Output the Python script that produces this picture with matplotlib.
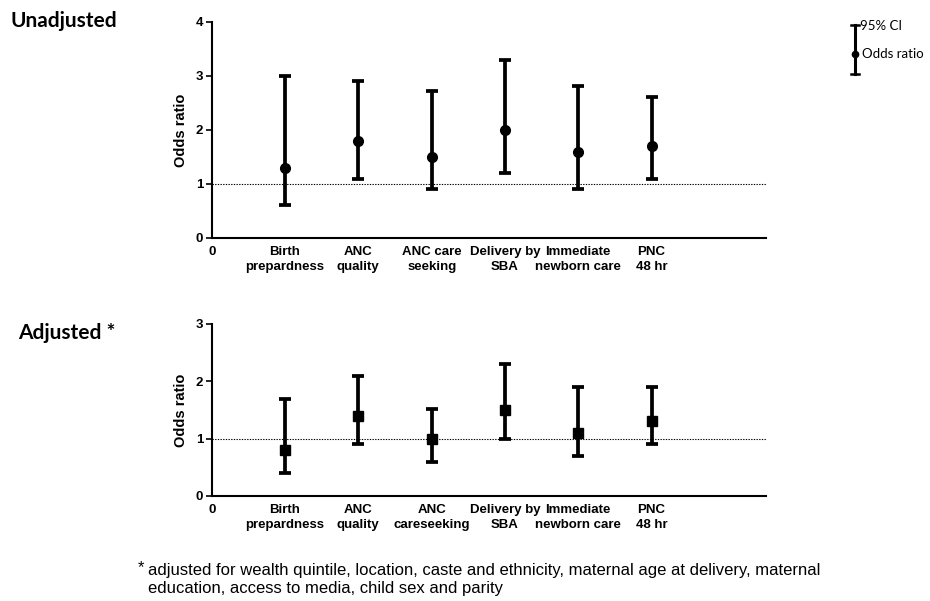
import matplotlib
matplotlib.use("Agg")
import matplotlib.pyplot as plt

categories_top = ["Birth\nprepardness", "ANC\nquality", "ANC care\nseeking",
                  "Delivery by\nSBA", "Immediate\nnewborn care", "PNC\n48 hr"]
categories_bottom = ["Birth\nprepardness", "ANC\nquality", "ANC\ncareseeking",
                     "Delivery by\nSBA", "Immediate\nnewborn care", "PNC\n48 hr"]

# unadjusted odds ratios and 95% CI
or_unadj = [1.3, 1.8, 1.5, 2.0, 1.6, 1.7]
lo_unadj = [0.62, 1.1, 0.9, 1.2, 0.9, 1.1]
hi_unadj = [3.0, 2.9, 2.72, 3.3, 2.82, 2.62]

# adjusted odds ratios and 95% CI
or_adj = [0.8, 1.4, 1.0, 1.5, 1.1, 1.3]
lo_adj = [0.4, 0.9, 0.6, 1.0, 0.7, 0.9]
hi_adj = [1.7, 2.1, 1.52, 2.3, 1.9, 1.9]

W, H = 930, 601
fig = plt.figure(figsize=(9.3, 6.01), dpi=100)
plt.rcParams['font.family'] = ['Liberation Sans', 'DejaVu Sans']


def px_axes(x0, y0, x1, y1):
    # pixel box (left, top, right, bottom) -> figure fraction axes
    return fig.add_axes([x0 / W, 1 - y1 / H, (x1 - x0) / W, (y1 - y0) / H])


def panel(ax, ors, lo, hi, labels, ymax, marker):
    x = list(range(1, len(ors) + 1))
    yerr = [[o - l for o, l in zip(ors, lo)], [h - o for o, h in zip(ors, hi)]]
    ax.errorbar(x, ors, yerr=yerr, fmt=marker, color='black', ms=7,
                elinewidth=2.7, capsize=4.5, capthick=2.7)
    ax.axhline(1, color='black', lw=0.8, ls=(0, (1.2, 1.2)))
    ax.set_xlim(0, 7.56)
    ax.set_ylim(0, ymax)
    ax.set_yticks(range(ymax + 1))
    ax.set_xticks([0] + x)
    ax.set_xticklabels(['0'] + labels, fontsize=9.5, fontweight='bold',
                       linespacing=1.25)
    ax.tick_params(axis='x', length=0, pad=6)
    ax.tick_params(axis='y', length=4, width=1.2, labelsize=9.5, pad=2)
    for t in ax.get_yticklabels():
        t.set_fontweight('bold')
    for s in ['top', 'right']:
        ax.spines[s].set_visible(False)
    for s in ['left', 'bottom']:
        ax.spines[s].set_linewidth(1.5)
    ax.set_ylabel('Odds ratio', fontsize=10.5, fontweight='bold', labelpad=6)


ax1 = px_axes(211.7, 22, 766, 238)
panel(ax1, or_unadj, lo_unadj, hi_unadj, categories_top, 4, 'o')

ax2 = px_axes(211.7, 324, 766, 496)
panel(ax2, or_adj, lo_adj, hi_adj, categories_bottom, 3, 's')

fig.text(10 / W, 1 - 21 / H, 'Unadjusted', fontsize=15, fontweight='bold',
         family=['Lato', 'DejaVu Sans'], va='center')
fig.text(18 / W, 1 - 333 / H, 'Adjusted *', fontsize=15, fontweight='bold',
         family=['Lato', 'DejaVu Sans'], va='center')

# key in the top right corner
lg = px_axes(840, 20, 930, 80)
lg.set_xlim(840, 930)
lg.set_ylim(80, 20)
lg.axis('off')
lg.plot([855, 855], [25, 74], color='black', lw=2.2)
lg.plot([851, 859], [25, 25], color='black', lw=1.8)
lg.plot([851, 859], [74, 74], color='black', lw=1.8)
lg.plot([855], [54], 'o', color='black', ms=4.5)
lg.text(860, 26, '95% CI', fontsize=9.5, va='center', family=['Lato', 'DejaVu Sans'])
lg.text(862, 54, 'Odds ratio', fontsize=9.5, va='center', family=['Lato', 'DejaVu Sans'])

fig.text(138 / W, 1 - 568 / H, '*', fontsize=12, va='center')
fig.text(148 / W, 1 - 563 / H,
         'adjusted for wealth quintile, location, caste and ethnicity, maternal age at delivery, maternal\n'
         'education, access to media, child sex and parity',
         fontsize=12, va='top', linespacing=1.25)

fig.savefig('out.png', dpi=100)
